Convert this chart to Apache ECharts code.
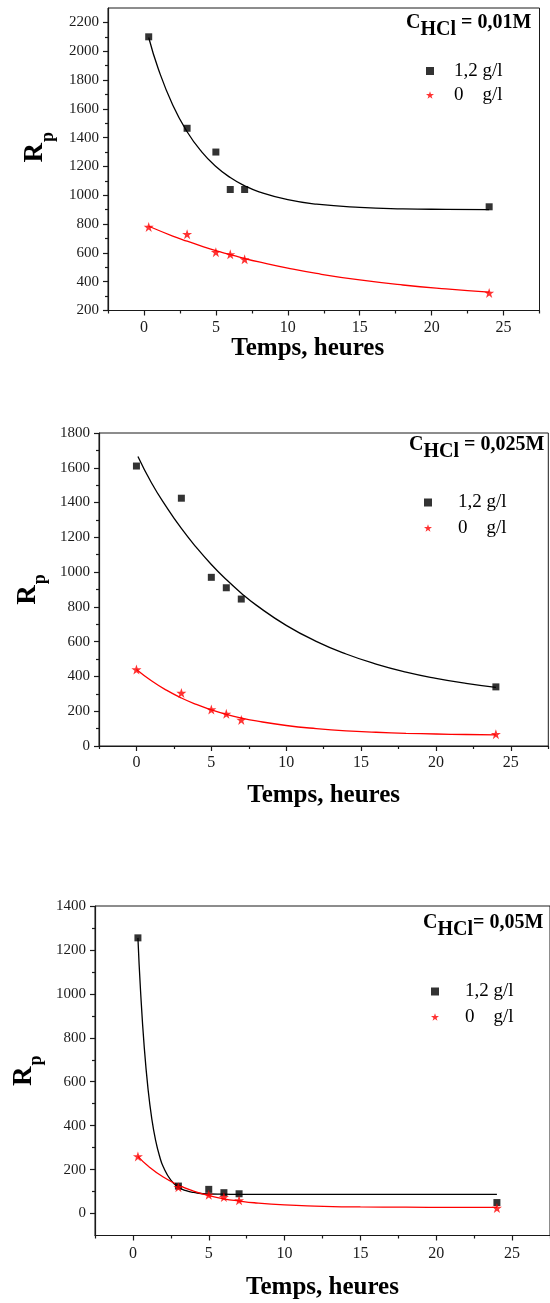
<!DOCTYPE html>
<html><head><meta charset="utf-8">
<script src="https://cdn.jsdelivr.net/npm/echarts@6/dist/echarts.min.js"></script>
<style>html,body{margin:0;padding:0;background:#fff}#c{width:550px;height:1303px}</style>
</head><body><div id="c"></div>
<script>
// ---------------- DATA ----------------
const seriesNames = ['1,2 g/l', '0    g/l'];
const xAxisTitle = 'Temps, heures';
const xTickValues = [0, 5, 10, 15, 20, 25];
const xMinorTickValues = [-2.5, 2.5, 7.5, 12.5, 17.5, 22.5, 27.5];

// Panel 1 : C_HCl = 0,01M
const p1Label = ' = 0,01M';
const p1Time = [0.33, 3, 5, 6, 7, 24];
const p1Inhib = [2100, 1465, 1300, 1040, 1040, 920];
const p1Blank = [780, 730, 605, 590, 555, 322];
const p1FitInhibTime = [0.33, 1, 2, 3, 4, 5, 6, 7, 8, 10, 12, 15, 18, 21, 24];
const p1FitInhib = [2095, 1877, 1627, 1441, 1303, 1200, 1123, 1066, 1024, 969, 938, 916, 906, 902, 900];
const p1FitBlankTime = [0.33, 2, 3, 4, 5, 6, 7, 8, 10, 12, 15, 18, 21, 24];
const p1FitBlank = [785, 717, 681, 647, 615, 588, 561, 537, 494, 457, 412, 377, 350, 328];
const p1YTicks = [200, 400, 600, 800, 1000, 1200, 1400, 1600, 1800, 2000, 2200];
const p1YMinorTicks = [300, 500, 700, 900, 1100, 1300, 1500, 1700, 1900, 2100];

// Panel 2 : C_HCl = 0,025M
const p2Label = ' = 0,025M';
const p2Time = [0, 3, 5, 6, 7, 24];
const p2Inhib = [1610, 1425, 970, 910, 845, 340];
const p2Blank = [440, 305, 210, 185, 150, 68];
const p2FitInhibTime = [0.1, 1, 2, 3, 4, 5, 6, 7, 8, 10, 12, 14, 16, 18, 20, 22, 24];
const p2FitInhib = [1665, 1514, 1375, 1251, 1142, 1044, 957, 879, 810, 694, 602, 529, 471, 425, 389, 360, 337];
const p2FitBlankTime = [0, 1, 2, 3, 4, 5, 6, 7, 8, 10, 12, 14, 16, 18, 20, 22, 24];
const p2FitBlank = [440, 375, 321, 276, 239, 208, 182, 161, 144, 118, 100, 87, 79, 73, 69, 66, 64];
const p2YTicks = [0, 200, 400, 600, 800, 1000, 1200, 1400, 1600, 1800];
const p2YMinorTicks = [100, 300, 500, 700, 900, 1100, 1300, 1500, 1700];

// Panel 3 : C_HCl = 0,05M
const p3Label = '= 0,05M';
const p3Time = [0.33, 3, 5, 6, 7, 24];
const p3Inhib = [1255, 125, 110, 95, 90, 50];
const p3Blank = [260, 120, 85, 75, 60, 25];
const p3FitInhibTime = [0.33, 0.5, 0.75, 1, 1.25, 1.5, 1.75, 2, 2.5, 3, 3.5, 4, 5, 6, 7, 10, 15, 24];
const p3FitInhib = [1255, 1018, 754, 565, 429, 332, 263, 213, 152, 120, 104, 96, 89, 88, 87, 87, 87, 87];
const p3FitBlankTime = [0.33, 1, 2, 3, 4, 5, 6, 7, 8, 10, 12, 15, 18, 21, 24];
const p3FitBlank = [260, 216, 166, 129, 102, 82, 67, 57, 49, 39, 34, 30, 29, 28, 28];
const p3YTicks = [0, 200, 400, 600, 800, 1000, 1200, 1400];
const p3YMinorTicks = [100, 300, 500, 700, 900, 1100, 1300];

// ---------------- LAYOUT / STYLE ----------------
const FONT = "'Liberation Serif','Times New Roman',serif";
const AX = '#1a1a1a';
const STAR = 'path://M50,0L61.8,35.1L98.9,35.1L68.9,56.9L80.3,91.9L50,70.3L19.7,91.9L31.1,56.9L1.1,35.1L38.2,35.1Z';

const panels = [
  { data: {t: p1Time, inh: p1Inhib, blank: p1Blank, fiT: p1FitInhibTime, fi: p1FitInhib, fbT: p1FitBlankTime, fb: p1FitBlank, yTicks: p1YTicks, yMinor: p1YMinorTicks, label: p1Label},
    grid: {left: 108, top: 8, width: 431.5, height: 302.5}, yMin: 200, yMax: 2300,
    xLabelMargin: 9, xNameGap: 25, xNamePad: [0, 32, 0, 0], yNameGap: 56, yNamePad: [0, 0, 0, 24],
    ann: {left: 406, top: 13}, legend: {left: 426, top: 61.5, gap: 5, pad: 15} },
  { data: {t: p2Time, inh: p2Inhib, blank: p2Blank, fiT: p2FitInhibTime, fi: p2FitInhib, fbT: p2FitBlankTime, fb: p2FitBlank, yTicks: p2YTicks, yMinor: p2YMinorTicks, label: p2Label},
    grid: {left: 99, top: 433, width: 449.3, height: 313}, yMin: 0, yMax: 1800,
    xLabelMargin: 9, xNameGap: 37, xNamePad: [0, 0, 0, 0], yNameGap: 51, yNamePad: [0, 0, 0, 0],
    ann: {left: 409, top: 434.5}, legend: {left: 424, top: 493, gap: 6.5, pad: 21} },
  { data: {t: p3Time, inh: p3Inhib, blank: p3Blank, fiT: p3FitInhibTime, fi: p3FitInhib, fbT: p3FitBlankTime, fb: p3FitBlank, yTicks: p3YTicks, yMinor: p3YMinorTicks, label: p3Label},
    grid: {left: 95, top: 906, width: 456, height: 329.5}, yMin: -100, yMax: 1400,
    xLabelMargin: 10.5, xNameGap: 40, xNamePad: [0, 0, 0, 0], yNameGap: 52, yNamePad: [0, 0, 0, 0],
    ann: {left: 423, top: 912.5}, legend: {left: 431, top: 982, gap: 6.5, pad: 21} }
];

const zip = (a, b) => a.map((v, i) => [v, b[i]]);
const plain = v => String(v);

const option = {
  animation: false,
  backgroundColor: '#fff',
  grid: [], xAxis: [], yAxis: [], series: [], title: [], legend: []
};

panels.forEach((P, i) => {
  const d = P.data;
  option.grid.push(Object.assign({show: true, borderColor: AX, borderWidth: 1, backgroundColor: 'transparent'}, P.grid));
  const lineStyle = {color: AX, width: 1.2};
  option.xAxis.push({
    type: 'value', gridIndex: i, position: 'bottom', min: -2.5, max: 27.5,
    axisLine: {show: true, onZero: false, lineStyle},
    axisTick: {show: true, customValues: xTickValues, length: 5, lineStyle},
    axisLabel: {customValues: xTickValues, formatter: plain, fontSize: 16, fontFamily: FONT, color: AX, margin: P.xLabelMargin},
    splitLine: {show: false},
    name: xAxisTitle, nameLocation: 'middle', nameGap: P.xNameGap,
    nameTextStyle: {fontSize: 25, fontWeight: 'bold', fontFamily: FONT, color: '#000', padding: P.xNamePad}
  });
  option.xAxis.push({
    type: 'value', gridIndex: i, position: 'bottom', offset: 0, min: -2.5, max: 27.5,
    axisLine: {show: false, onZero: false}, axisLabel: {show: false}, splitLine: {show: false},
    axisTick: {show: true, customValues: xMinorTickValues, length: 3, lineStyle}
  });
  option.yAxis.push({
    type: 'value', gridIndex: i, position: 'left', min: P.yMin, max: P.yMax,
    axisLine: {show: true, onZero: false, lineStyle},
    axisTick: {show: true, customValues: d.yTicks, length: 5, lineStyle},
    axisLabel: {customValues: d.yTicks, formatter: plain, fontSize: 15, fontFamily: FONT, color: AX, margin: 9},
    splitLine: {show: false},
    name: '{R|R}{p|p}', nameLocation: 'middle', nameGap: P.yNameGap, nameRotate: 90,
    nameTextStyle: {padding: P.yNamePad, rich: {
      R: {fontSize: 27, fontWeight: 'bold', fontFamily: FONT, color: '#000', lineHeight: 30, verticalAlign: 'top'},
      p: {fontSize: 18, fontWeight: 'bold', fontFamily: FONT, color: '#000', lineHeight: 18, verticalAlign: 'top', padding: [17, 0, 0, 1]}
    }}
  });
  option.yAxis.push({
    type: 'value', gridIndex: i, position: 'left', offset: 0, min: P.yMin, max: P.yMax,
    axisLine: {show: false, onZero: false}, axisLabel: {show: false}, splitLine: {show: false},
    axisTick: {show: true, customValues: d.yMinor, length: 3, lineStyle}
  });
  const xi = i * 2, yi = i * 2;
  option.series.push(
    {type: 'line', name: 'fit-inh-' + i, xAxisIndex: xi, yAxisIndex: yi, data: zip(d.fiT, d.fi), showSymbol: false, smooth: 0.5, lineStyle: {color: '#000', width: 1.3}, z: 2, silent: true},
    {type: 'line', name: 'fit-blank-' + i, xAxisIndex: xi, yAxisIndex: yi, data: zip(d.fbT, d.fb), showSymbol: false, smooth: 0.5, lineStyle: {color: '#ff0000', width: 1.3}, z: 2, silent: true},
    {type: 'scatter', name: seriesNames[0], xAxisIndex: xi, yAxisIndex: yi, data: zip(d.t, d.inh), symbol: 'rect', symbolSize: 7, itemStyle: {color: '#000'}, z: 3},
    {type: 'scatter', name: seriesNames[1], xAxisIndex: xi, yAxisIndex: yi, data: zip(d.t, d.blank), symbol: STAR, symbolSize: 10, itemStyle: {color: '#ff0000'}, z: 3}
  );
  option.title.push({
    text: '{c|C}{s|HCl}{c|' + d.label + '}', left: P.ann.left, top: P.ann.top, padding: 0,
    textStyle: {rich: {
      c: {fontSize: 20, fontWeight: 'bold', fontFamily: FONT, color: '#000', lineHeight: 20, verticalAlign: 'top'},
      s: {fontSize: 20, fontWeight: 'bold', fontFamily: FONT, color: '#000', lineHeight: 20, verticalAlign: 'top', padding: [7, 0, 0, 0]}
    }}
  });
  option.legend.push({
    orient: 'vertical', left: P.legend.left, top: P.legend.top, padding: 0,
    itemGap: P.legend.gap, itemWidth: 8, itemHeight: 8, selectedMode: false,
    data: [{name: seriesNames[0], icon: 'rect'}, {name: seriesNames[1], icon: STAR}],
    textStyle: {fontSize: 19, fontFamily: FONT, color: '#000', padding: [0, 0, 0, P.legend.pad]}
  });
});

const chart = echarts.init(document.getElementById('c'), null, {renderer: 'canvas'});
chart.setOption(option);
</script></body></html>
